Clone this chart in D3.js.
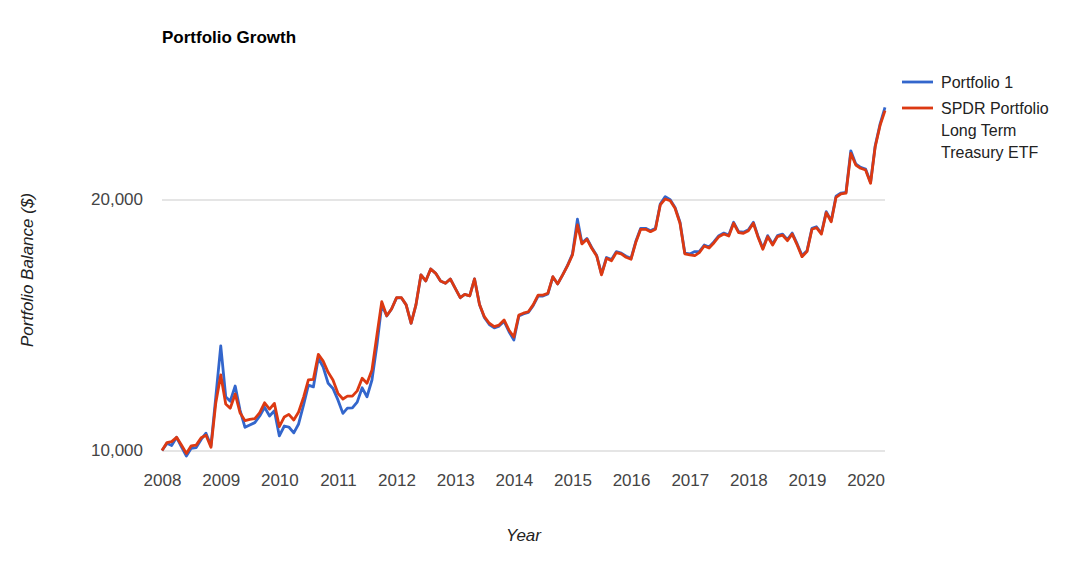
<!DOCTYPE html>
<html>
<head>
  <meta charset="UTF-8">
  <style>
    body { margin: 0; background: #fff; }
    svg { display: block; font-family: Arial, "Liberation Sans", sans-serif; }
  </style>
</head>
<body>
  <svg></svg>
<script src="https://d3js.org/d3.v7.min.js"></script>
<script>

// monthly balances, Jan 2008 .. May 2020
let portfolio1 = [
  10000,10200,10140,10370,10100,9850,10060,10080,10310,10490,
  10130,11590,13350,11600,11460,11950,11180,10660,10730,10800,
  11000,11270,11000,11160,10410,10700,10670,10500,10760,11340,
  11980,11920,12910,12590,12040,11870,11500,11080,11240,11250,
  11430,11890,11600,12150,13380,14950,14500,14780,15240,15240,
  14950,14210,14950,16240,15970,16510,16310,15970,15870,16060,
  15650,15250,15390,15330,16060,14970,14440,14160,14030,14100,
  14280,13890,13570,14500,14580,14640,14920,15320,15320,15410,
  16150,15840,16240,16670,17210,18940,17740,17960,17520,17130,
  16280,17040,16940,17320,17250,17100,17000,17850,18470,18470,
  18350,18470,19750,20160,19990,19570,18780,17250,17210,17320,
  17320,17640,17540,17800,18100,18230,18130,18780,18300,18270,
  18400,18780,18100,17480,18100,17690,18100,18180,17900,18230,
  17690,17130,17360,18470,18550,18230,19340,18860,20180,20360,
  20400,22880,22060,21860,21760,20970,23200,24660,25800
];

let spdrLongTerm = [
  10000,10220,10250,10370,10150,9920,10130,10150,10360,10430,
  10090,11400,12320,11370,11240,11690,11100,10860,10900,10920,
  11100,11410,11210,11390,10680,10970,11050,10880,11120,11590,
  12150,12170,13040,12800,12410,12150,11710,11530,11620,11620,
  11790,12210,12040,12490,13760,15080,14510,14780,15250,15250,
  14950,14210,14950,16240,15970,16510,16310,15970,15870,16060,
  15650,15250,15390,15330,16060,14970,14470,14210,14080,14140,
  14340,13950,13680,14540,14610,14670,14950,15360,15360,15440,
  16160,15840,16240,16650,17160,18640,17690,17920,17480,17110,
  16240,17000,16890,17270,17210,17050,16960,17800,18420,18420,
  18300,18420,19700,20030,19930,19520,18730,17210,17160,17130,
  17270,17590,17490,17750,18050,18180,18080,18730,18250,18220,
  18350,18730,18050,17430,18050,17640,18050,18130,17850,18180,
  17640,17080,17320,18420,18500,18180,19290,18810,20120,20310,
  20350,22720,22000,21800,21700,20920,23140,24570,25560
];

let yearTicks = [2008,2009,2010,2011,2012,2013,2014,2015,2016,2017,2018,2019,2020];
let balanceTicks = [10000, 20000];
let seriesNames = ["Portfolio 1", "SPDR Portfolio Long Term Treasury ETF"];
let legendLines = [["Portfolio 1"], ["SPDR Portfolio", "Long Term", "Treasury ETF"]];
let colors = ["#3366cc", "#dc3912"];

let width = 1075,
    height = 562;

let svg = d3.select("svg")
    .attr("width", width)
    .attr("height", height);

let months = portfolio1.map((v, i) => new Date(2008, i, 1));

let x = d3.scaleTime()
    .domain([months[0], months[months.length - 1]])
    .range([162, 885]);

let y = d3.scaleLog()
    .domain([10000, 20000])
    .range([450.5, 199.5]);

// gridlines + y labels
let yAxis = svg.append("g")
    .attr("transform", "translate(162,0)")
    .call(d3.axisLeft(y)
      .tickValues(balanceTicks)
      .tickFormat(d3.format(","))
      .tickSize(-723)
      .tickPadding(19));
yAxis.select(".domain").remove();
yAxis.selectAll("line").attr("stroke", "#cccccc").attr("stroke-width", 1.2);
yAxis.selectAll("text")
    .attr("fill", "#444")
    .style("font-size", "17px");

// x labels
let xAxis = svg.append("g")
    .attr("transform", "translate(0,465)")
    .call(d3.axisBottom(x)
      .tickValues(yearTicks.map(yr => new Date(yr, 0, 1)))
      .tickFormat(d3.timeFormat("%Y"))
      .tickSize(0)
      .tickPadding(9));
xAxis.select(".domain").remove();
xAxis.selectAll("text")
    .attr("fill", "#444")
    .style("font-size", "17px");

// lines
let line = d3.line()
    .x((d, i) => x(months[i]))
    .y(d => y(d));

svg.append("g")
  .selectAll("path")
  .data([portfolio1, spdrLongTerm])
  .enter()
  .append("path")
    .attr("d", d => line(d))
    .attr("fill", "none")
    .attr("stroke", (d, i) => colors[i])
    .attr("stroke-width", 2.8)
    .attr("stroke-linejoin", "round");

// titles
svg.append("text")
    .attr("x", 162)
    .attr("y", 43)
    .style("font-size", "17px")
    .style("font-weight", "bold")
    .attr("fill", "#000")
    .text("Portfolio Growth");

svg.append("text")
    .attr("x", 523.5)
    .attr("y", 541)
    .attr("text-anchor", "middle")
    .style("font-size", "17px")
    .style("font-style", "italic")
    .attr("fill", "#222")
    .text("Year");

svg.append("text")
    .attr("transform", "translate(33,270) rotate(-90)")
    .attr("text-anchor", "middle")
    .style("font-size", "17px")
    .style("font-style", "italic")
    .attr("fill", "#222")
    .text("Portfolio Balance ($)");

// legend
let legendY = [82, 108];
let legend = svg.append("g")
  .selectAll("g")
  .data(seriesNames)
  .enter()
  .append("g")
    .attr("transform", (d, i) => "translate(902," + legendY[i] + ")");

legend.append("line")
    .attr("x1", 0)
    .attr("x2", 31)
    .attr("stroke", (d, i) => colors[i])
    .attr("stroke-width", 2.8);

legend.append("text")
    .attr("x", 39)
    .attr("y", 5.5)
    .style("font-size", "16px")
    .attr("fill", "#222")
    .selectAll("tspan")
    .data((d, i) => legendLines[i])
    .enter()
    .append("tspan")
      .attr("x", 39)
      .attr("dy", (d, j) => j == 0 ? 0 : 22)
      .text(d => d);

</script>
</body>
</html>
